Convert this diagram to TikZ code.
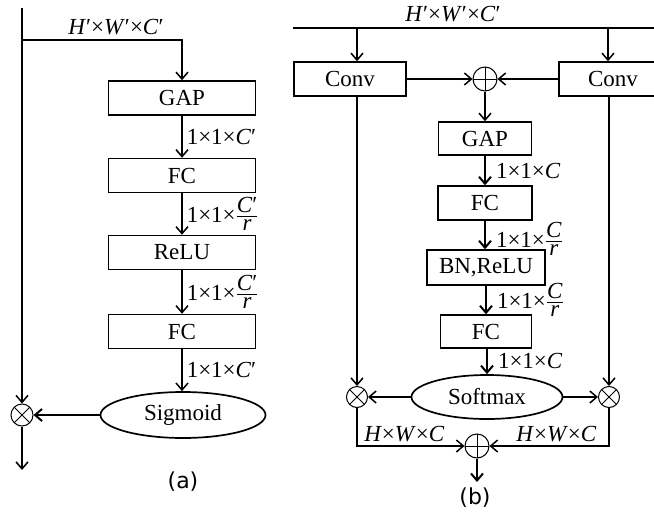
\documentclass[tikz,border=0pt]{standalone}
\usepackage{fontspec}
\setmainfont{Liberation Serif}
\newfontfamily\capfont{DejaVu Sans}
\usetikzlibrary{arrows.meta,calc,positioning,shapes.geometric}

\newcommand{\primed}[1]{\textit{#1}′}
\newcommand{\fracr}[1]{$\frac{\mbox{#1}}{\mbox{\textit{r}}}$}

\begin{document}
\begin{tikzpicture}[x=1pt,y=-1pt,font=\fontsize{23}{27}\selectfont,line width=1.5pt,>={Straight Barb[length=7pt,width=12pt]}]

\tikzset{blockbox/.style={draw,minimum height=34pt,inner sep=0pt},
ovalbox/.style={draw,ellipse,inner sep=0pt,line width=1.7pt},
mulnode/.style={draw,circle,minimum size=22pt,inner sep=0pt,line width=1pt,path picture={\draw[line width=1pt] (path picture bounding box.north west) -- (path picture bounding box.south east) (path picture bounding box.north east) -- (path picture bounding box.south west);}},
addnode/.style={draw,circle,minimum size=24pt,inner sep=0pt,line width=1pt,path picture={\draw[line width=1pt] (path picture bounding box.north) -- (path picture bounding box.south) (path picture bounding box.west) -- (path picture bounding box.east);}},
dimlabel/.style={anchor=west,inner sep=0pt,xshift=4pt},
thickarrow/.style={->,line width=2pt},
caption/.style={font={\capfont\fontsize{22}{26}\selectfont}}}

\useasboundingbox (0,0) rectangle (654,512);

% (a) blocks
\coordinate (atop) at (22,8);
\coordinate (asplit) at (22,40);
\coordinate (aout) at (22,470);
\node (adim) at (116,27) {\primed{H}×\primed{W}×\primed{C}};
\node[blockbox,minimum width=147pt] (agap) at (182,98) {GAP};
\node[blockbox,minimum width=147pt] (afc1) at (182,175.5) {FC};
\node[blockbox,minimum width=147pt] (arelu) at (182,252.5) {ReLU};
\node[blockbox,minimum width=147pt] (afc2) at (182,331.5) {FC};
\node[ovalbox,minimum width=165pt,minimum height=46pt] (asig) at (183,415) {Sigmoid};
\node[mulnode] (amul) at (22,415) {};
\node[caption] (acap) at (183,482) {(a)};

% (a) edges
\draw (atop) -- (asplit);
\draw[->] (asplit) -- (amul);
\draw[->] (asplit) -| (agap);
\draw[->] (agap) -- node[dimlabel] {1×1×\primed{C}} (afc1);
\draw[->] (afc1) -- node[dimlabel] {1×1×\fracr{\primed{C}}} (arelu);
\draw[->] (arelu) -- node[dimlabel] {1×1×\fracr{\primed{C}}} (afc2);
\draw[->] (afc2) -- node[dimlabel] {1×1×\primed{C}} (afc2 |- asig.north);
\draw[thickarrow] (asig) -- (amul);
\draw[->] (amul) -- (aout);

% (b) blocks
\coordinate (bleft) at (293,28);
\coordinate (bright) at (660,28);
\coordinate (bsplitl) at (357,28);
\coordinate (bsplitr) at (608,28);
\coordinate (bout) at (477,482);
\node (bdim) at (453,14) {\primed{H}×\primed{W}×\primed{C}};
\node[blockbox,minimum width=112pt] (bconvl) at (350,79) {Conv};
\node[blockbox,minimum width=108pt] (bconvr) at (613,79) {Conv};
\node[addnode] (badd) at (485,79) {};
\node[blockbox,minimum width=93pt,minimum height=33pt] (bgap) at (485,138.5) {GAP};
\node[blockbox,minimum width=94pt] (bfc1) at (485,203) {FC};
\node[blockbox,minimum width=118pt,minimum height=35pt] (bbn) at (486,267.5) {BN,ReLU};
\node[blockbox,minimum width=91pt,minimum height=33pt] (bfc2) at (486,331.5) {FC};
\node[ovalbox,minimum width=151pt,minimum height=44pt] (bsoft) at (487,397) {Softmax};
\node[mulnode,minimum size=21pt] (bmull) at (357,397) {};
\node[mulnode,minimum size=21pt] (bmulr) at (609,397) {};
\node[addnode] (baddb) at (477,446) {};
\node[caption] (bcap) at (475,498) {(b)};

% (b) edges
\draw (bleft) -- (bright);
\draw[->] (bsplitl) -- (bsplitl |- bconvl.north);
\draw[->] (bsplitr) -- (bsplitr |- bconvr.north);
\draw[->] (bconvl) -- (badd);
\draw[->] (bconvr) -- (badd);
\draw[->] (badd) -- (bgap);
\draw[thickarrow] (bgap.south -| bfc1) -- node[dimlabel,xshift=6pt] {1×1×\textit{C}} (bfc1);
\draw[thickarrow] (bfc1) -- node[dimlabel,xshift=6pt,yshift=-4pt] {1×1×\fracr{\textit{C}}} (bbn.north -| bfc1);
\draw[thickarrow] (bbn.south -| bfc2) -- node[dimlabel,xshift=6pt] {1×1×\fracr{\textit{C}}} (bfc2);
\draw[thickarrow] (bfc2.south -| bsoft) -- node[dimlabel,xshift=6pt] {1×1×\textit{C}} (bsoft);
\draw[->] (bconvl.south -| bmull) -- (bmull);
\draw[->] (bconvr.south -| bmulr) -- (bmulr);
\draw[->] (bsoft) -- (bmull);
\draw[->] (bsoft) -- (bmulr);
\draw[->] (bmull) |- node[pos=0.72,above] {\textit{H}×\textit{W}×\textit{C}} (baddb);
\draw[->] (bmulr) |- node[pos=0.72,above] {\textit{H}×\textit{W}×\textit{C}} (baddb);
\draw[thickarrow] (baddb) -- (bout);

\end{tikzpicture}
\end{document}
